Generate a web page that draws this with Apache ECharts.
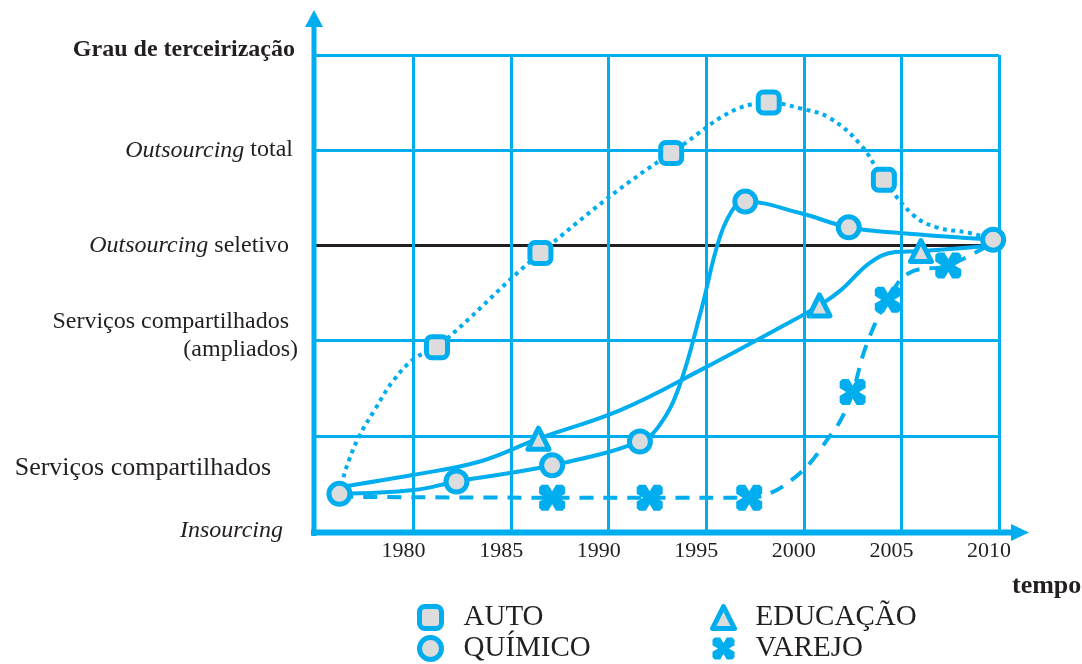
<!DOCTYPE html>
<html lang="pt-BR">
<head>
    <meta charset="utf-8">
    <title>Grau de terceirização</title>
    <script src="https://cdn.jsdelivr.net/npm/echarts@6/dist/echarts.min.js"></script>
    <style>
        html, body { margin: 0; padding: 0; background: #fff; }
        #chart { width: 1082px; height: 664px; }
    </style>
</head>
<body>
<div id="chart"></div>
<script>
    // cores
    var BLUE = '#00aeef';
    var GREY = '#dcdcdc';
    var INK = '#231f20';
    var FONT = "'Liberation Serif', 'Times New Roman', serif";

    // eixos
    var yearTicks = [1980, 1985, 1990, 1995, 2000, 2005, 2010];
    var levelLabels = [
        '{ins|Insourcing}',
        '{sc|Serviços compartilhados}',
        '{a|Serviços compartilhados}\n{b|(ampliados)}',
        '{it|Outsourcing}{sel| seletivo}',
        '{it|Outsourcing}{tot| total}',
        '{grau|Grau de terceirização}'
    ];

    // AUTO (pontilhado)
    var autoX = [1976.2, 1976.4, 1976.7, 1977.2, 1978.0, 1979.0, 1980.1, 1981.2, 1986.5, 1993.2, 1998.2, 1999.8, 2001.3, 2002.9, 2004.1, 2005.6, 2006.8, 2008.5, 2009.7];
    var autoY = [0.39, 0.56, 0.75, 0.99, 1.27, 1.59, 1.82, 1.93, 2.92, 3.97, 4.50, 4.44, 4.34, 4.06, 3.69, 3.32, 3.19, 3.13, 3.06];
    var autoMark = [0, 0, 0, 0, 0, 0, 0, 1, 1, 1, 1, 0, 0, 0, 1, 0, 0, 0, 0];

    // QUÍMICO (contínuo)
    var quimX = [1976.2, 1980.0, 1982.2, 1987.1, 1991.6, 1992.6, 1993.6, 1994.7, 1995.7, 1996.5, 1997.0, 1999.8, 2002.3, 2004.9, 2009.7];
    var quimY = [0.39, 0.43, 0.52, 0.69, 0.94, 1.11, 1.51, 2.29, 3.09, 3.42, 3.46, 3.34, 3.19, 3.13, 3.06];
    var quimMark = [1, 0, 1, 1, 1, 0, 0, 0, 0, 0, 1, 0, 1, 0, 1];

    // EDUCAÇÃO (contínuo)
    var eduX = [1976.2, 1980.0, 1983.4, 1986.4, 1990.6, 1994.7, 1998.8, 2000.8, 2001.9, 2003.4, 2004.7, 2006.0, 2009.7];
    var eduY = [0.46, 0.59, 0.73, 0.97, 1.27, 1.69, 2.14, 2.37, 2.53, 2.82, 2.93, 2.94, 3.00];
    var eduMark = [0, 0, 0, 1, 0, 0, 0, 1, 0, 0, 0, 1, 0];

    // VAREJO (tracejado)
    var varX = [1976.2, 1987.1, 1992.1, 1997.2, 1998.3, 1999.4, 2000.3, 2001.2, 2001.9, 2002.5, 2003.2, 2004.3, 2005.4, 2007.4, 2009.7];
    var varY = [0.36, 0.35, 0.35, 0.35, 0.40, 0.54, 0.71, 0.96, 1.17, 1.46, 1.95, 2.43, 2.71, 2.79, 3.03];
    var varMark = [0, 1, 1, 1, 0, 0, 0, 0, 0, 1, 0, 1, 0, 1, 0];

    var xShape = 'path://M1,0 L3.5,0 L5,2.5 L6.5,0 L9,0 L10,1 L10,3.5 L7.5,5 L10,6.5 L10,9 L9,10 L6.5,10 L5,7.5 L3.5,10 L1,10 L0,9 L0,6.5 L2.5,5 L0,3.5 L0,1 Z';

    function pts(xs, ys) {
        return xs.map(function (x, i) { return [x, ys[i]]; });
    }
    function marks(xs, ys, m) {
        return pts(xs, ys).filter(function (p, i) { return m[i]; });
    }
    function lineSeries(name, xs, ys, type) {
        return {
            type: 'line', name: name, data: pts(xs, ys),
            smooth: 0.4, symbol: 'none', silent: true, z: 3,
            itemStyle: { color: BLUE },
            lineStyle: { color: BLUE, width: 4, type: type, cap: 'butt' }
        };
    }
    function markSeries(name, xs, ys, m, symbol, size, style) {
        return {
            type: 'scatter', name: name, data: marks(xs, ys, m),
            symbol: symbol, symbolSize: size, silent: true, z: 5,
            itemStyle: style
        };
    }

    var ringStyle = { color: GREY, borderColor: BLUE, borderWidth: 5, borderJoin: 'round', opacity: 1 };
    var crossStyle = { color: BLUE, borderWidth: 0, opacity: 1 };
    var legendText = { fontFamily: FONT, fontSize: 29, color: INK };

    var chart = echarts.init(document.getElementById('chart'));
    chart.setOption({
        animation: false,
        grid: { left: 316, right: 83, top: 55, bottom: 133, outerBoundsMode: 'none' },
        xAxis: {
            type: 'value', min: 1975, max: 2010, interval: 5,
            axisLine: { show: false },
            axisTick: { show: false },
            axisLabel: {
                formatter: function (v) { return yearTicks.indexOf(v) >= 0 ? String(v) : ''; },
                fontFamily: FONT, fontSize: 22, color: INK, margin: 9, padding: [0, 20, 0, 0]
            },
            splitLine: { show: true, showMinLine: false, lineStyle: { color: BLUE, width: 3 } },
            name: '{t|tempo}', nameLocation: 'end', nameGap: 13,
            nameTextStyle: {
                rich: {
                    t: { fontFamily: FONT, fontSize: 26, fontWeight: 'bold', color: INK, padding: [110, 0, 0, 0] }
                }
            }
        },
        yAxis: {
            type: 'value', min: 0, max: 5, interval: 1,
            axisLine: { show: false },
            axisTick: { show: false },
            splitLine: { show: true, lineStyle: { color: [BLUE, BLUE, BLUE, INK, BLUE, BLUE], width: 3 } },
            axisLabel: {
                margin: 18,
                formatter: function (v) { return levelLabels[v] || ''; },
                fontFamily: FONT, fontSize: 24, color: INK,
                rich: {
                    ins: { fontFamily: FONT, fontSize: 24, color: INK, fontStyle: 'italic', padding: [0, 15, 0, 0] },
                    sc: { fontFamily: FONT, fontSize: 26, color: INK, padding: [64, 27, 0, 0] },
                    a: { fontFamily: FONT, fontSize: 24, color: INK, lineHeight: 28, padding: [0, 9, 9, 0] },
                    b: { fontFamily: FONT, fontSize: 24, color: INK, lineHeight: 28, padding: [0, 0, 9, 0] },
                    it: { fontFamily: FONT, fontSize: 24, color: INK, fontStyle: 'italic' },
                    sel: { fontFamily: FONT, fontSize: 24, color: INK, padding: [0, 9, 0, 0] },
                    tot: { fontFamily: FONT, fontSize: 24, color: INK, padding: [0, 5, 0, 0] },
                    grau: { fontFamily: FONT, fontSize: 24, color: INK, fontWeight: 'bold', padding: [0, 3, 10, 0] }
                }
            }
        },
        legend: [
            {
                orient: 'vertical', left: 417, top: 603, padding: 0,
                itemWidth: 22, itemHeight: 22, itemGap: 2, selectedMode: false,
                textStyle: Object.assign({ padding: [0, 0, 0, 17] }, legendText),
                data: [
                    { name: 'AUTO', icon: 'roundRect', itemStyle: ringStyle },
                    { name: 'QUÍMICO', icon: 'circle', itemStyle: ringStyle }
                ]
            },
            {
                orient: 'vertical', left: 710, top: 603, padding: 0,
                itemWidth: 22, itemHeight: 22, itemGap: 2, selectedMode: false,
                textStyle: Object.assign({ padding: [0, 0, 0, 16] }, legendText),
                data: [
                    { name: 'EDUCAÇÃO', icon: 'triangle', itemStyle: ringStyle },
                    { name: 'VAREJO', icon: xShape, itemStyle: crossStyle }
                ]
            }
        ],
        graphic: [
            { type: 'line', shape: { x1: 314, y1: 536, x2: 314, y2: 24 }, style: { stroke: BLUE, lineWidth: 5 }, z: 10 },
            { type: 'polygon', shape: { points: [[305, 27], [314, 10], [323, 27]] }, style: { fill: BLUE }, z: 10 },
            { type: 'line', shape: { x1: 311, y1: 532.5, x2: 1014, y2: 532.5 }, style: { stroke: BLUE, lineWidth: 6 }, z: 10 },
            { type: 'polygon', shape: { points: [[1011, 524], [1029, 532.5], [1011, 541]] }, style: { fill: BLUE }, z: 10 }
        ],
        series: [
            lineSeries('AUTO', autoX, autoY, [4, 4.5]),
            lineSeries('EDUCAÇÃO', eduX, eduY, 'solid'),
            lineSeries('VAREJO', varX, varY, [14, 10]),
            lineSeries('QUÍMICO', quimX, quimY, 'solid'),
            markSeries('AUTO', autoX, autoY, autoMark, 'roundRect', 21, ringStyle),
            markSeries('EDUCAÇÃO', eduX, eduY, eduMark, 'triangle', 21, ringStyle),
            markSeries('VAREJO', varX, varY, varMark, xShape, 26, crossStyle),
            markSeries('QUÍMICO', quimX, quimY, quimMark, 'circle', 21, ringStyle)
        ]
    });
</script>
</body>
</html>
